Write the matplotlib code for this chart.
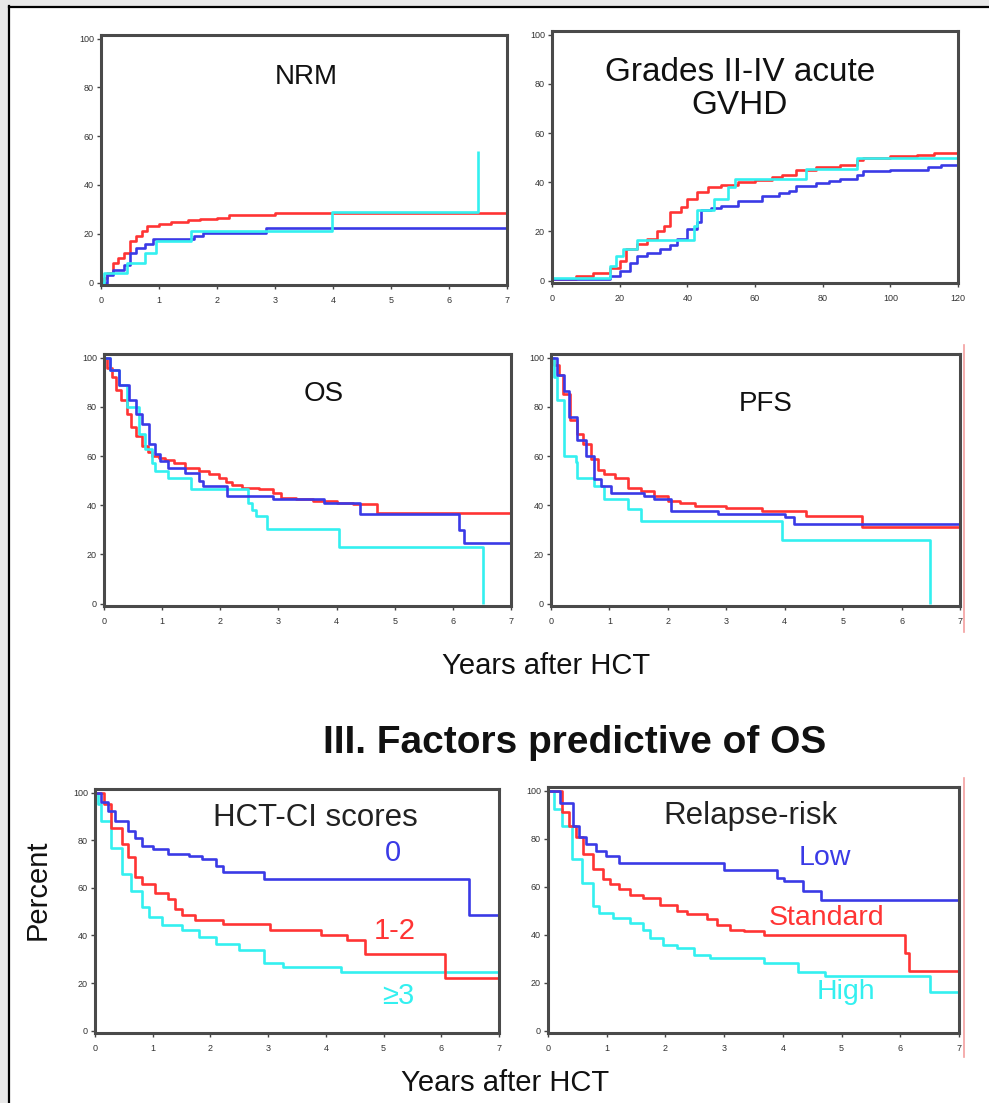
import matplotlib
matplotlib.use("Agg")
import matplotlib.pyplot as plt
from matplotlib.patches import Rectangle
from matplotlib.lines import Line2D

plt.rcParams['font.family'] = ['Liberation Sans', 'DejaVu Sans']

RED = '#ff3434'
BLUE = '#3a3ae6'
CYAN = '#33f0f0'

# ---------------- data ----------------
# NRM (years, %)
nrm_red_t = [0, 0.05, 0.1, 0.2, 0.3, 0.4, 0.5, 0.6, 0.7, 0.8, 1.0, 1.2, 1.5, 1.7, 2.0, 2.2, 3.0, 7.0]
nrm_red_v = [0, 2, 4, 8, 10, 12, 17, 19, 21, 23, 24, 25, 25.5, 26, 26.5, 27.5, 28.5, 28.5]
nrm_blue_t = [0, 0.1, 0.2, 0.4, 0.5, 0.6, 0.75, 0.9, 1.6, 1.75, 2.85, 7.0]
nrm_blue_v = [0, 3, 5, 7, 12, 14, 16, 18, 19, 20.5, 22.5, 22.5]
nrm_cyan_t = [0, 0.05, 0.45, 0.75, 0.95, 1.55, 3.98, 6.5]
nrm_cyan_v = [0, 4, 8, 12, 17, 21, 29, 54]

# Grades II-IV acute GVHD (days, %)
gv_red_t = [0, 7, 12, 17, 20, 22, 25, 28, 31, 33, 35, 38, 40, 43, 46, 50, 55, 60, 65, 68, 72, 78, 85, 90, 92, 100, 108, 113, 120]
gv_red_v = [0.5, 2, 3, 5, 8, 13, 15, 17, 20, 22, 28, 30, 33, 36, 38, 39, 40, 41, 42, 43, 45, 46, 47, 49, 50, 50.5, 51, 52, 53]
gv_blue_t = [0, 17, 20, 23, 25, 28, 32, 35, 37, 40, 43, 44, 47, 50, 55, 62, 67, 70, 72, 78, 82, 85, 90, 92, 100, 111, 115, 120]
gv_blue_v = [0.5, 2, 4, 7, 10, 11, 13, 14.5, 17, 21, 24, 28.5, 29.5, 30.5, 32.5, 34.5, 35.5, 36.5, 38.5, 39.5, 40.5, 41.5, 43, 44.5, 45, 46, 47, 48]
gv_cyan_t = [0, 17, 19, 21, 25, 42, 43, 47, 48, 52, 54, 75, 90, 119.5, 120]
gv_cyan_v = [1, 6, 10, 13, 16.5, 22, 28.5, 28.5, 33, 38, 41.5, 45.5, 50, 50, 54]

# OS (years, %)
os_red_t = [0, 0.05, 0.13, 0.2, 0.3, 0.4, 0.47, 0.55, 0.65, 0.75, 0.82, 0.95, 1.05, 1.2, 1.4, 1.63, 1.8, 1.98, 2.1, 2.21, 2.38, 2.67, 2.9, 3.04, 3.3, 3.6, 4.0, 4.29, 4.69, 7.0]
os_red_v = [100, 96, 92, 87, 82.7, 77, 72, 68, 64, 61.5, 60, 59, 58.5, 57, 55, 54, 52.5, 51, 49.5, 48.4, 47, 46.5, 45, 43, 42.5, 41.7, 41, 40.4, 37, 37]
os_blue_t = [0, 0.1, 0.25, 0.43, 0.55, 0.65, 0.77, 0.87, 0.97, 1.1, 1.4, 1.63, 1.7, 2.12, 2.9, 3.78, 4.41, 6.1, 6.2, 7.0]
os_blue_v = [100, 95, 89, 82.7, 77, 73, 65, 61, 57.8, 55, 53, 50, 47.8, 43.8, 42.4, 40.7, 36.4, 30, 24.5, 24.5]
os_cyan_t = [0, 0.1, 0.25, 0.4, 0.6, 0.7, 0.82, 0.88, 1.1, 1.5, 2.47, 2.55, 2.62, 2.8, 4.04, 6.52]
os_cyan_v = [100, 95, 89, 80, 69, 63, 57, 53.8, 51, 46.4, 41, 38, 35.6, 30.2, 22.8, 0]

# PFS (years, %)
pfs_red_t = [0, 0.05, 0.13, 0.2, 0.33, 0.45, 0.55, 0.68, 0.8, 0.91, 1.1, 1.31, 1.54, 1.77, 2.0, 2.2, 2.46, 3.0, 3.61, 4.36, 5.33, 7.0]
pfs_red_v = [100, 97, 93, 85.4, 74.7, 69, 65, 58.6, 54.5, 52.5, 51, 47, 45.7, 43.6, 41.7, 40.7, 39.6, 39, 37.6, 35.6, 31, 31]
pfs_blue_t = [0, 0.1, 0.22, 0.3, 0.45, 0.6, 0.74, 0.85, 1.02, 1.6, 1.77, 2.06, 2.86, 4.01, 4.16, 7.0]
pfs_blue_v = [100, 93, 86.5, 76, 66.7, 60, 50.5, 47.8, 45, 43.6, 42.4, 37.6, 36.3, 35, 32.3, 32.3]
pfs_cyan_t = [0, 0.05, 0.1, 0.22, 0.42, 0.45, 0.74, 0.91, 1.31, 1.54, 3.96, 6.49]
pfs_cyan_v = [100, 92, 82.7, 60, 57.5, 51, 47.8, 42.4, 38.4, 33.6, 26, 0]

# HCT-CI scores (years, %)
hct0_t = [0, 0.1, 0.22, 0.35, 0.57, 0.7, 0.81, 1.0, 1.27, 1.63, 1.86, 2.1, 2.21, 2.92, 6.48, 7.0]
hct0_v = [100, 96, 92.3, 88, 84, 81, 77.7, 76.3, 74.2, 73.5, 72, 69.3, 66.6, 63.7, 48.4, 48.4]
hct12_t = [0, 0.16, 0.28, 0.46, 0.57, 0.69, 0.81, 1.04, 1.27, 1.39, 1.5, 1.74, 2.21, 3.03, 3.91, 4.37, 4.67, 6.07, 7.0]
hct12_v = [100, 95, 85, 78.4, 72.8, 64.4, 61.6, 58, 55.4, 51, 48.4, 46.3, 44.9, 42.1, 40, 37.9, 32, 22, 22]
hct3_t = [0, 0.05, 0.11, 0.28, 0.46, 0.63, 0.81, 0.93, 1.16, 1.51, 1.8, 2.1, 2.5, 2.92, 3.26, 4.26, 7.0]
hct3_v = [100, 95, 88, 76.6, 65.8, 58.8, 51.9, 47.7, 44.2, 42.1, 39.3, 36.5, 33.7, 28.2, 26.8, 24.7, 24.7]

# Relapse-risk (years, %)
low_t = [0, 0.2, 0.42, 0.52, 0.64, 0.81, 0.99, 1.21, 3.0, 3.9, 4.02, 4.34, 4.65, 7.0]
low_v = [100, 95, 85.3, 80.5, 77.7, 74.9, 72.8, 70, 67, 63.7, 62.3, 58.1, 54.6, 54.6]
std_t = [0, 0.24, 0.35, 0.47, 0.59, 0.76, 0.93, 1.05, 1.21, 1.39, 1.62, 1.9, 2.19, 2.36, 2.7, 2.87, 3.1, 3.33, 3.68, 6.08, 6.15, 7.0]
std_v = [100, 90.9, 85.3, 80.5, 73.5, 67.2, 63, 60.9, 58.8, 56.7, 55.3, 52.5, 49.8, 48.4, 46.3, 44.2, 42.1, 41.4, 40, 32.4, 24.7, 24.7]
high_t = [0, 0.1, 0.24, 0.41, 0.58, 0.76, 0.87, 1.1, 1.39, 1.62, 1.73, 1.96, 2.19, 2.48, 2.76, 3.68, 4.25, 4.71, 6.5, 7.0]
high_v = [100, 92.3, 85.3, 71.4, 61.6, 51.9, 49.1, 47, 44.9, 42.1, 38.6, 35.8, 34.4, 31.6, 30.2, 28.1, 24.6, 22.8, 16, 16]

year_ticks = [0, 1, 2, 3, 4, 5, 6, 7]
day_ticks = [0, 20, 40, 60, 80, 100, 120]
pct_ticks = [0, 20, 40, 60, 80, 100]

# ---------------- figure ----------------
W, H = 989, 1103
fig = plt.figure(figsize=(W / 100, H / 100), dpi=100)
fig.patch.set_facecolor('white')

# slide frame
fig.add_artist(Rectangle((0, 1 - 6 / H), 1, 6 / H, transform=fig.transFigure,
                         facecolor='#e8e8e8', edgecolor='none', zorder=0))
fig.add_artist(Rectangle((0, 0), 8 / W, 1, transform=fig.transFigure,
                         facecolor='#e8e8e8', edgecolor='none', zorder=0))
fig.add_artist(Line2D([9 / W, 9 / W], [0, 1 - 6 / H], transform=fig.transFigure,
                      color='black', lw=1.6))
fig.add_artist(Line2D([9 / W, 1], [1 - 6.5 / H, 1 - 6.5 / H], transform=fig.transFigure,
                      color='black', lw=1.6))


def make_ax(l, r, t, b):
    return fig.add_axes([l / W, 1 - b / H, (r - l) / W, (b - t) / H])


def style(ax, xmax, xticks):
    ax.set_xlim(0, xmax)
    ax.set_ylim(-1, 101.5)
    ax.set_xticks(xticks)
    ax.set_yticks(pct_ticks)
    ax.tick_params(axis='both', labelsize=6.5, labelcolor='#333333', colors='#444444',
                   length=3, width=1, direction='out', pad=2)
    ax.tick_params(axis='x', pad=5)
    for s in ax.spines.values():
        s.set_color('#4a4a4a')
        s.set_linewidth(2.2)


def steps(ax, t, v, color):
    ax.step(t, v, where='post', color=color, lw=1.9, solid_capstyle='butt')


def ftext(x, y, s, **kw):
    fig.text(x / W, 1 - y / H, s, ha='center', va='center', **kw)


# NRM
ax1 = make_ax(101, 507, 35, 285)
steps(ax1, nrm_red_t, nrm_red_v, RED)
steps(ax1, nrm_blue_t, nrm_blue_v, BLUE)
steps(ax1, nrm_cyan_t, nrm_cyan_v, CYAN)
style(ax1, 7, year_ticks)
ftext(306, 77, 'NRM', fontsize=20, color='#111111')

# GVHD
ax2 = make_ax(552, 958, 31, 283)
steps(ax2, gv_red_t, gv_red_v, RED)
steps(ax2, gv_blue_t, gv_blue_v, BLUE)
steps(ax2, gv_cyan_t, gv_cyan_v, CYAN)
style(ax2, 120, day_ticks)
ftext(740, 89, 'Grades II-IV acute\nGVHD', fontsize=24, linespacing=1.12, color='#111111')

# OS
ax3 = make_ax(104, 511, 354, 606)
steps(ax3, os_red_t, os_red_v, RED)
steps(ax3, os_cyan_t, os_cyan_v, CYAN)
steps(ax3, os_blue_t, os_blue_v, BLUE)
style(ax3, 7, year_ticks)
ftext(324, 394, 'OS', fontsize=20, color='#111111')

# PFS
ax4 = make_ax(551, 960, 354, 606)
steps(ax4, pfs_red_t, pfs_red_v, RED)
steps(ax4, pfs_cyan_t, pfs_cyan_v, CYAN)
steps(ax4, pfs_blue_t, pfs_blue_v, BLUE)
style(ax4, 7, year_ticks)
ftext(766, 404, 'PFS', fontsize=20, color='#111111')

ftext(546, 666, 'Years after HCT', fontsize=21, color='#111111')
ftext(575, 743, 'III. Factors predictive of OS', fontsize=28, fontweight='bold',
      color='#111111')

# HCT-CI
ax5 = make_ax(95, 499, 789, 1033)
steps(ax5, hct3_t, hct3_v, CYAN)
steps(ax5, hct12_t, hct12_v, RED)
steps(ax5, hct0_t, hct0_v, BLUE)
style(ax5, 7, year_ticks)
ftext(315, 818, 'HCT-CI scores', fontsize=22.5, color='#222222')
ftext(393, 853, '0', fontsize=21, color=BLUE)
ftext(395, 931, '1-2', fontsize=21, color=RED)
ftext(398, 996, '≥3', fontsize=21, color=CYAN)

# Relapse risk
ax6 = make_ax(548, 959, 787, 1033)
steps(ax6, high_t, high_v, CYAN)
steps(ax6, std_t, std_v, RED)
steps(ax6, low_t, low_v, BLUE)
style(ax6, 7, year_ticks)
ftext(750, 816, 'Relapse-risk', fontsize=22.5, color='#222222')
ftext(825, 858, 'Low', fontsize=20.5, color=BLUE)
ftext(826, 918, 'Standard', fontsize=20.5, color=RED)
ftext(846, 992, 'High', fontsize=20.5, color=CYAN)

fig.text(38 / W, 1 - 890 / H, 'Percent', rotation=90, ha='center', va='center',
         fontsize=21, color='#111111')
ftext(505, 1083, 'Years after HCT', fontsize=21, color='#111111')

# faint red edge lines
fig.add_artist(Line2D([964 / W, 964 / W], [1 - 345 / H, 1 - 632 / H], transform=fig.transFigure,
                      color='#f4a0a0', lw=1.2))
fig.add_artist(Line2D([964 / W, 964 / W], [1 - 778 / H, 1 - 1057 / H], transform=fig.transFigure,
                      color='#f4a0a0', lw=1.2))

fig.savefig('out.png', dpi=100, facecolor='white')
